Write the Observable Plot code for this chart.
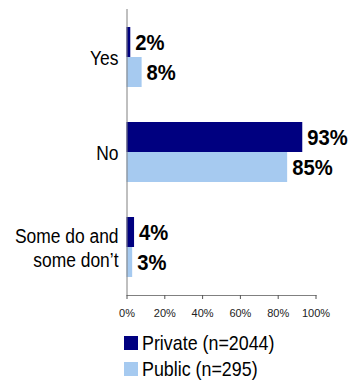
<!DOCTYPE html>
<html>
<head>
<meta charset="utf-8">
<script src="https://cdn.jsdelivr.net/npm/d3@7"></script>
<script src="https://cdn.jsdelivr.net/npm/@observablehq/plot@0.6"></script>
<style>
  html, body { margin: 0; padding: 0; background: #fff; }
  #wrap { position: relative; width: 350px; height: 381px; overflow: hidden; }
  #legend { position: absolute; left: 124px; top: 329.5px; font-family: "Liberation Sans", Arial, sans-serif; font-size: 21px; color: #000; }
  .item { display: flex; align-items: center; height: 26px; white-space: nowrap; }
  .sw { width: 14px; height: 14px; margin-right: 4px; flex: none; }
  .lbl { display: inline-block; transform: scaleX(0.85); transform-origin: left center; }
</style>
</head>
<body>
<div id="wrap"></div>
<script>
const categories = ["Yes", "No", "Some do and\nsome don’t"];
const seriesNames = ["Private (n=2044)", "Public (n=295)"];
const seriesKeys = ["Private", "Public"];
const privateValues = [2, 93, 4];
const publicValues = [8, 85, 3];
const xTicks = [0, 20, 40, 60, 80, 100];
const colors = ["#000080", "#a6caf0"];

const data = categories.flatMap((c, i) => [
  {category: c, series: "Private", value: privateValues[i]},
  {category: c, series: "Public", value: publicValues[i]}
]);
const priv = data.filter(d => d.series === "Private");
const pub = data.filter(d => d.series === "Public");

const chart = Plot.plot({
  width: 350,
  height: 325,
  marginLeft: 126.5,
  marginRight: 34.5,
  marginTop: 9,
  marginBottom: 30,
  style: {fontFamily: '"Liberation Sans", Arial, sans-serif', fontSize: "11px", background: "#fff", color: "#000"},
  x: {domain: [0, 100], axis: null, label: null},
  y: {domain: categories, paddingInner: 0.372, paddingOuter: 0.18, axis: null, label: null},
  color: {domain: seriesKeys, range: colors},
  marks: [
    Plot.barX(priv, {y: "category", x: "value", fill: "#000080", insetBottom: 30, insetTop: 0}),
    Plot.barX(pub, {y: "category", x: "value", fill: "#a6caf0", insetTop: 30, insetBottom: 0}),
    Plot.ruleX([0], {stroke: "#808080", strokeWidth: 1}),
    Plot.frame({anchor: "bottom", stroke: "#808080"}),
    Plot.axisX({ticks: xTicks, tickFormat: d => d + "%", tickSize: 4, tickPadding: 10, stroke: "#555", fill: "#222", fontSize: 11, label: null}),
    Plot.text(priv, {y: "category", x: "value", text: d => d.value + "%", dy: -15, dx: 4.5, textAnchor: "start", fontWeight: "bold", fontSize: 22, fill: "#000"}),
    Plot.text(pub, {y: "category", x: "value", text: d => d.value + "%", dy: 15, dx: 4.5, textAnchor: "start", fontWeight: "bold", fontSize: 22, fill: "#000"}),
    Plot.text(categories, {y: d => d, x: 0, text: d => d, dx: -8.5, textAnchor: "end", lineAnchor: "middle", lineHeight: 1.14, fontSize: 21, fill: "#000"})
  ]
});

const wrap = document.getElementById("wrap");
wrap.appendChild(chart);

const catSet = new Set(categories.map(c => c.replace(/\n/g, "")));
const valSet = new Set([...privateValues, ...publicValues].map(v => v + "%"));

function squeezeEl(el, k) {
  const tr = el.getAttribute("transform");
  if (tr) {
    el.setAttribute("transform", tr + ` scale(${k},1)`);
  } else {
    const x = +(el.getAttribute("x") || 0);
    el.setAttribute("transform", `translate(${x * (1 - k)},0) scale(${k},1)`);
  }
}
chart.querySelectorAll("text").forEach(el => {
  const t = el.textContent;
  if (catSet.has(t)) squeezeEl(el, 0.83);
  else if (valSet.has(t)) squeezeEl(el, 0.92);
});

const legend = document.createElement("div");
legend.id = "legend";
seriesNames.forEach((name, i) => {
  const item = document.createElement("div");
  item.className = "item";
  const sw = document.createElement("div");
  sw.className = "sw";
  sw.style.background = colors[i];
  const label = document.createElement("span");
  label.className = "lbl";
  label.textContent = name;
  item.appendChild(sw);
  item.appendChild(label);
  legend.appendChild(item);
});
wrap.appendChild(legend);
</script>
</body>
</html>
